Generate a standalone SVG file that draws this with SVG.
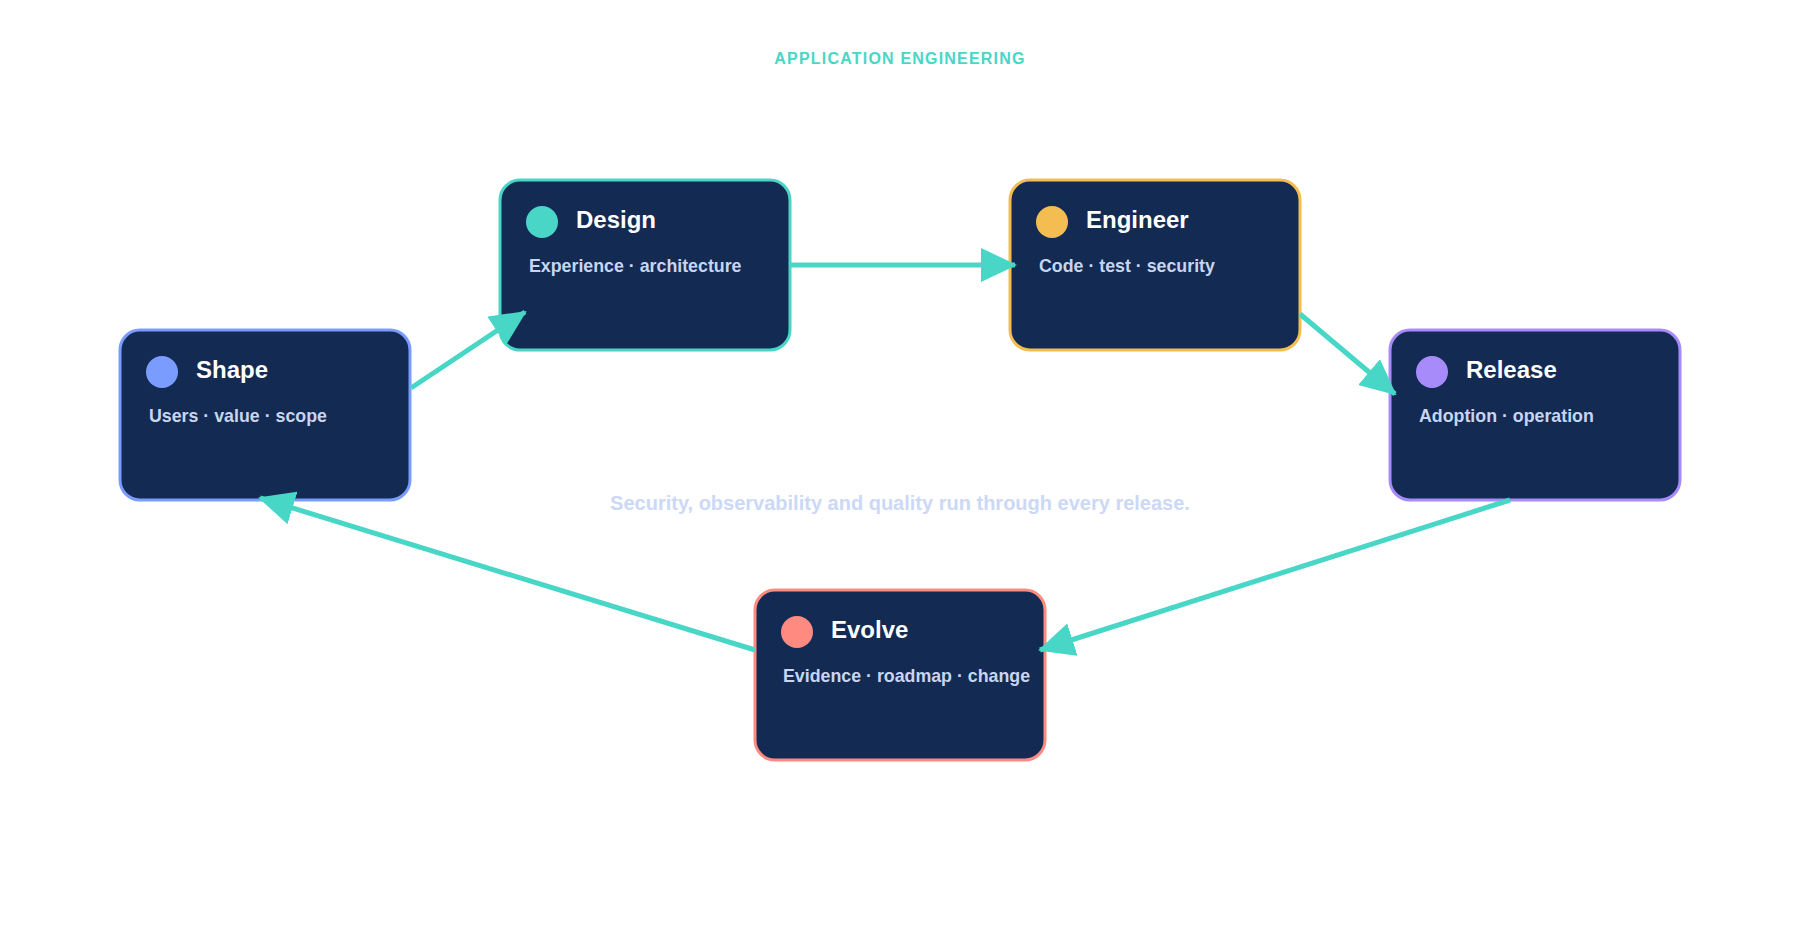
<svg xmlns="http://www.w3.org/2000/svg" width="1800" height="940" viewBox="0 0 1800 940">
<style>
.node rect{fill:#132a53;stroke-width:3}
.title{font-family:"Liberation Sans",Arial,sans-serif;font-weight:bold;font-size:24px;fill:#ffffff}
.sub{font-family:"Liberation Sans",Arial,sans-serif;font-weight:bold;font-size:17.8px;fill:#c8d5f0}
.conn line{stroke:#48d6c6;stroke-width:5;fill:none}
.head{font-family:"Liberation Sans",Arial,sans-serif;font-weight:bold;font-size:16px;fill:#48d6c6;letter-spacing:1.2px}
.foot{font-family:"Liberation Sans",Arial,sans-serif;font-weight:bold;font-size:20px;fill:#cbd8f6}
</style>
<defs>
<marker id="arr" viewBox="0 0 36 34" refX="34" refY="17" markerWidth="36" markerHeight="34" markerUnits="userSpaceOnUse" orient="auto">
<path d="M0,0 L36,17 L0,34 z" fill="#48d6c6"/>
</marker>
</defs>
<rect width="1800" height="940" fill="#ffffff"/>
<text class="head" x="900" y="64" text-anchor="middle">APPLICATION ENGINEERING</text>
<text class="foot" x="900" y="510" text-anchor="middle">Security, observability and quality run through every release.</text>

<g id="node-shape" class="node">
<rect x="120" y="330" width="290" height="170" rx="20" stroke="#7b9cff"/>
<circle cx="162" cy="372" r="16" fill="#7b9cff"/>
<text class="title" x="196" y="378">Shape</text>
<text class="sub" x="149" y="422">Users · value · scope</text>
</g>
<g id="node-design" class="node">
<rect x="500" y="180" width="290" height="170" rx="20" stroke="#4ad6c7"/>
<circle cx="542" cy="222" r="16" fill="#4ad6c7"/>
<text class="title" x="576" y="228">Design</text>
<text class="sub" x="529" y="272">Experience · architecture</text>
</g>
<g id="node-engineer" class="node">
<rect x="1010" y="180" width="290" height="170" rx="20" stroke="#f4bd52"/>
<circle cx="1052" cy="222" r="16" fill="#f4bd52"/>
<text class="title" x="1086" y="228">Engineer</text>
<text class="sub" x="1039" y="272">Code · test · security</text>
</g>
<g id="node-release" class="node">
<rect x="1390" y="330" width="290" height="170" rx="20" stroke="#a78bfa"/>
<circle cx="1432" cy="372" r="16" fill="#a78bfa"/>
<text class="title" x="1466" y="378">Release</text>
<text class="sub" x="1419" y="422">Adoption · operation</text>
</g>
<g id="node-evolve" class="node">
<rect x="755" y="590" width="290" height="170" rx="20" stroke="#ff8a80"/>
<circle cx="797" cy="632" r="16" fill="#ff8a80"/>
<text class="title" x="831" y="638">Evolve</text>
<text class="sub" x="783" y="682">Evidence · roadmap · change</text>
</g>

<g id="connectors" class="conn">
<line x1="411" y1="388" x2="525" y2="312" marker-end="url(#arr)"/>
<line x1="790" y1="265" x2="1015" y2="265" marker-end="url(#arr)"/>
<line x1="1300" y1="314" x2="1395" y2="394" marker-end="url(#arr)"/>
<line x1="1510" y1="500" x2="1040" y2="650" marker-end="url(#arr)"/>
<line x1="755" y1="650" x2="260" y2="498" marker-end="url(#arr)"/>
</g>
</svg>
